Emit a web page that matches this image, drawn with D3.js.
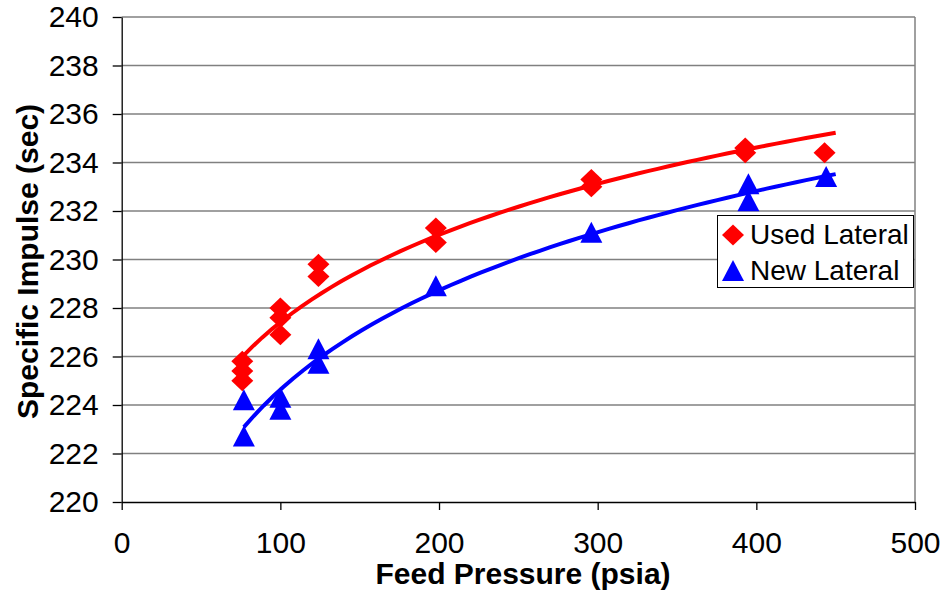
<!DOCTYPE html>
<html>
<head>
<meta charset="utf-8">
<script src="https://cdn.jsdelivr.net/npm/d3@7"></script>
<style>
  body { margin: 0; background: #fff; }
  text { font-family: "Liberation Sans", Arial, sans-serif; }
</style>
</head>
<body>
<svg id="chart"></svg>
<script>
// values
const usedX = [76, 76, 76, 100, 100, 100, 124, 124, 198, 198, 296, 296, 393, 393, 443];
const usedY = [225.8, 225.4, 225.0, 228.0, 227.6, 226.9, 229.8, 229.3, 231.3, 230.7, 233.3, 233.0, 234.6, 234.4, 234.4];
const newX = [77, 77, 100, 100, 124, 124, 198, 296, 395, 395, 444];
const newY = [224.2, 222.7, 224.3, 223.8, 226.3, 225.7, 228.9, 231.1, 233.1, 232.4, 233.4];
const seriesNames = ["Used Lateral", "New Lateral"];
const seriesColors = ["#ff0000", "#0000ff"];
const xTicks = [0, 100, 200, 300, 400, 500];
const yTicks = [220, 222, 224, 226, 228, 230, 232, 234, 236, 238, 240];
const trendEndX = 450; // trendlines are extended a little past the last point

const width = 942;
const height = 592;
const plot = { left: 121.7, right: 915, top: 17, bottom: 502 };

const svg = d3.select("#chart").attr("width", width).attr("height", height);

const x = d3.scaleLinear().domain([0, 500]).range([plot.left, plot.right]);
const y = d3.scaleLinear().domain([220, 240]).range([plot.bottom, plot.top]);

// gridlines + right border
svg.append("g")
  .selectAll("line")
  .data(yTicks.filter(d => d !== 220))
  .enter()
  .append("line")
  .attr("x1", plot.left)
  .attr("x2", plot.right)
  .attr("y1", d => y(d))
  .attr("y2", d => y(d))
  .attr("stroke", "#808080")
  .attr("stroke-width", 1.5);

svg.append("line")
  .attr("x1", plot.right).attr("x2", plot.right)
  .attr("y1", plot.top).attr("y2", plot.bottom)
  .attr("stroke", "#808080")
  .attr("stroke-width", 1.5);

// axes
const yAxis = svg.append("g")
  .attr("transform", `translate(${plot.left},0)`)
  .call(d3.axisLeft(y).tickValues(yTicks).tickSize(9).tickPadding(14).tickSizeOuter(0));

const xAxis = svg.append("g")
  .attr("transform", `translate(0,${plot.bottom})`)
  .call(d3.axisBottom(x).tickValues(xTicks).tickSize(8).tickPadding(22).tickSizeOuter(0));

[yAxis, xAxis].forEach(g => {
  g.selectAll("path, line").attr("stroke", "#000").attr("stroke-width", 1.3);
  g.selectAll("text")
    .attr("fill", "#000")
    .style("font-family", "'Liberation Sans', Arial, sans-serif")
    .style("font-size", "30px");
});

// axis titles
svg.append("text")
  .attr("x", 523)
  .attr("y", 584)
  .attr("text-anchor", "middle")
  .style("font-size", "30px")
  .style("font-weight", "bold")
  .text("Feed Pressure (psia)");

svg.append("text")
  .attr("transform", `translate(38,${(plot.top + plot.bottom) / 2 + 2}) rotate(-90)`)
  .attr("text-anchor", "middle")
  .style("font-size", "30px")
  .style("font-weight", "bold")
  .text("Specific Impulse (sec)");

// log trendline fitted to the points (y = a*ln(x) + b)
function logFit(xs, ys) {
  const lx = xs.map(Math.log);
  const mx = d3.mean(lx), my = d3.mean(ys);
  let num = 0, den = 0;
  lx.forEach((v, i) => { num += (v - mx) * (ys[i] - my); den += (v - mx) * (v - mx); });
  const a = num / den;
  return { a, b: my - a * mx };
}

function trendPoints(xs, ys) {
  const fit = logFit(xs, ys);
  const x0 = d3.min(xs);
  return d3.range(0, 61).map(i => {
    const xv = x0 + (trendEndX - x0) * i / 60;
    return [xv, fit.a * Math.log(xv) + fit.b];
  });
}

const line = d3.line().x(d => x(d[0])).y(d => y(d[1])).curve(d3.curveLinear);

const series = [
  { name: seriesNames[0], xs: usedX, ys: usedY, color: seriesColors[0], shape: "diamond" },
  { name: seriesNames[1], xs: newX, ys: newY, color: seriesColors[1], shape: "triangle" }
];

function markerPath(shape, cx, cy) {
  if (shape === "diamond") {
    return `M${cx},${cy - 10.5}L${cx + 11},${cy}L${cx},${cy + 10.5}L${cx - 11},${cy}Z`;
  }
  return `M${cx},${cy - 11}L${cx + 11},${cy + 10}L${cx - 11},${cy + 10}Z`;
}

series.forEach(s => {
  svg.append("g")
    .selectAll("path")
    .data(s.xs.map((xv, i) => [xv, s.ys[i]]))
    .enter()
    .append("path")
    .attr("d", d => markerPath(s.shape, x(d[0]), y(d[1])))
    .attr("fill", s.color);
});

series.forEach(s => {
  svg.append("path")
    .datum(trendPoints(s.xs, s.ys))
    .attr("d", line)
    .attr("fill", "none")
    .attr("stroke", s.color)
    .attr("stroke-width", 4);
});

// legend
const legend = svg.append("g");
legend.append("rect")
  .attr("x", 717.5).attr("y", 215.5)
  .attr("width", 196).attr("height", 72)
  .attr("fill", "#fff")
  .attr("stroke", "#000")
  .attr("stroke-width", 1);

series.forEach((s, i) => {
  const cy = 235 + i * 36;
  legend.append("path")
    .attr("d", markerPath(s.shape, 733, cy))
    .attr("fill", s.color);
  legend.append("text")
    .attr("x", 750)
    .attr("y", cy + 9)
    .style("font-size", "28px")
    .attr("fill", "#000")
    .text(s.name);
});
</script>
</body>
</html>
